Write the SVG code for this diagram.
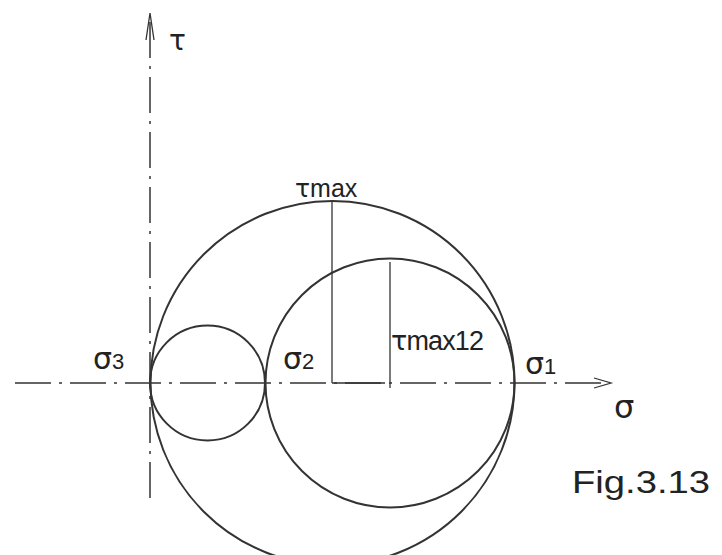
<svg xmlns="http://www.w3.org/2000/svg" width="722" height="555" viewBox="0 0 722 555">
<style>
.ax{stroke:#333;stroke-width:1.5;fill:none;stroke-dasharray:36,8,3,8}
.c{stroke:#333;stroke-width:2;fill:none}
.l{stroke:#333;stroke-width:1.3;fill:none}
text{font-family:"Liberation Sans",Arial,sans-serif;font-size:22px;fill:#222}
.g{font-family:"DejaVu Sans","Liberation Sans",sans-serif;font-size:30px}
</style>
<rect width="722" height="555" fill="#fff"/>
<g id="connectors">
<line class="ax" x1="150" y1="498" x2="150" y2="14"/>
<polyline class="l" points="146,40 150,13 154,40"/>
<line class="ax" x1="15" y1="383" x2="610" y2="383"/>
<polyline class="l" points="594,378 611,383 594,388"/>
<line class="l" x1="332" y1="201" x2="332" y2="383"/>
<line class="l" x1="390" y1="262" x2="390" y2="388"/>
<line class="l" x1="332" y1="383" x2="385" y2="383"/>
</g>
<g id="circle-big"><circle class="c" cx="332.5" cy="383" r="182"/></g>
<g id="circle-small"><circle class="c" cx="207.5" cy="383" r="57.5"/></g>
<g id="circle-mid"><circle class="c" cx="390" cy="383" r="124.5"/></g>
<g id="labels">
<text x="169" y="50" class="g" style="font-size:28px">τ</text>
<text x="295" y="197" style="font-size:25px"><tspan class="g" style="font-size:25px">τ</tspan>max</text>
<text x="391" y="350" style="font-size:27px" textLength="93"><tspan class="g" style="font-size:27px">τ</tspan>max12</text>
<text x="93" y="369"><tspan class="g">σ</tspan>3</text>
<text x="283" y="369"><tspan class="g">σ</tspan>2</text>
<text x="525" y="374"><tspan class="g">σ</tspan>1</text>
<text x="614" y="418" class="g" style="font-size:32px">σ</text>
<text x="572" y="493" style="font-size:32px" textLength="138" lengthAdjust="spacingAndGlyphs">Fig.3.13</text>
</g>
</svg>
